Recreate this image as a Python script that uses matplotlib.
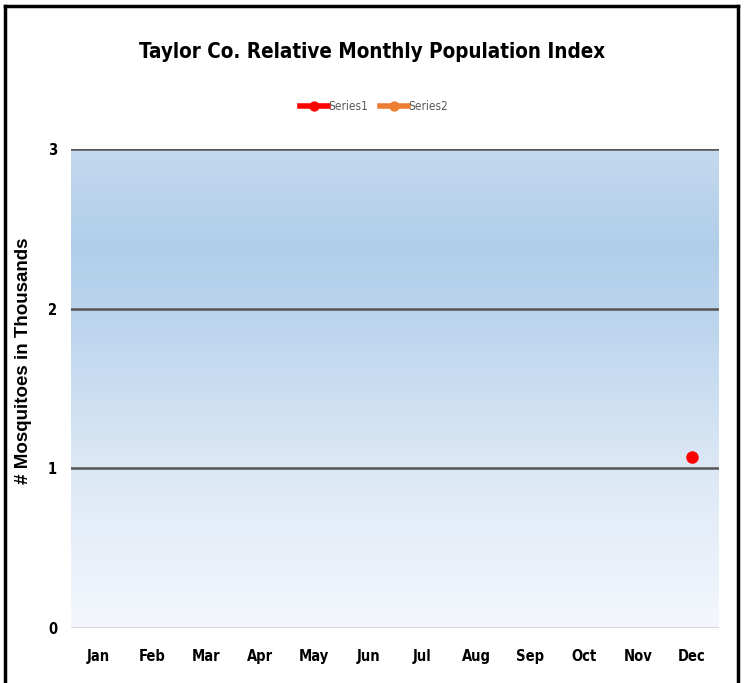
import numpy as np
import matplotlib
matplotlib.use("Agg")
import matplotlib.pyplot as plt
from matplotlib.colors import LinearSegmentedColormap
from matplotlib.lines import Line2D

# data
months = ['Jan', 'Feb', 'Mar', 'Apr', 'May', 'Jun',
          'Jul', 'Aug', 'Sep', 'Oct', 'Nov', 'Dec']
series1 = [np.nan] * 11 + [1.07]
series2 = [np.nan] * 12
yticks = [0, 1, 2, 3]

cond = dict(family='DejaVu Sans', stretch='condensed', weight='bold')

fig = plt.figure(figsize=(7.45, 6.83), dpi=100)
ax = fig.add_axes([71/745, 1 - 628/683, 648/745, 479/683])

# blue gradient background
grad = LinearSegmentedColormap.from_list(
    'bg', [(0.0, '#f4f7fd'), (0.35, '#dbe7f5'), (0.62, '#bdd6ee'),
           (0.80, '#b1cee9'), (1.0, '#c3d9ef')])
ax.imshow(np.linspace(0, 1, 256).reshape(-1, 1), cmap=grad, aspect='auto',
          extent=[0, 1, 0, 1], transform=ax.transAxes, origin='lower', zorder=0)

x = np.arange(len(months))
ax.plot(x, series1, marker='o', color='#ff0000', lw=4, ms=8, label='Series1', zorder=4)
ax.plot(x, series2, marker='o', color='#ed7d31', lw=4, ms=8, label='Series2', zorder=4)

ax.set_xlim(-0.5, 11.5)
ax.set_ylim(0, 3)
for v in yticks[1:]:
    ax.axhline(v, color='#555555', lw=1.8, zorder=2)
ax.axhline(0, color='#d9d9d9', lw=1.5, zorder=2)

for s in ax.spines.values():
    s.set_visible(False)
ax.set_xticks(x)
ax.set_xticklabels(months, fontsize=10.5, **cond)
ax.set_yticks(yticks)
ax.set_yticklabels([str(v) for v in yticks], fontsize=10.5, **cond)
ax.tick_params(axis='x', length=0, pad=15)
ax.tick_params(axis='y', length=0, pad=10)
ax.set_ylabel('# Mosquitoes in Thousands', family='Liberation Sans', fontweight='bold',
              fontsize=13.5)
ax.yaxis.set_label_coords(-0.060, 0.557)

fig.text(0.5, 1 - 52/683, 'Taylor Co. Relative Monthly Population Index',
         ha='center', va='center', fontsize=14.8, **cond)

leg = fig.legend(loc='center', bbox_to_anchor=(374/745, 1 - 107/683), ncol=2, frameon=False,
                 prop={'family': 'DejaVu Sans', 'stretch': 'condensed', 'size': 8.5},
                 handlelength=2.4, columnspacing=1.0, handletextpad=0.0, markerscale=0.8)
for t in leg.get_texts():
    t.set_color('#595959')

# outer border
fig.add_artist(Line2D([5/745, 738/745], [1 - 6/683, 1 - 6/683], color='black', lw=2.5))
fig.add_artist(Line2D([5/745, 5/745], [0, 1 - 6/683], color='black', lw=2.5))
fig.add_artist(Line2D([738/745, 738/745], [0, 1 - 6/683], color='black', lw=2.5))

fig.savefig('out.png', dpi=100)
